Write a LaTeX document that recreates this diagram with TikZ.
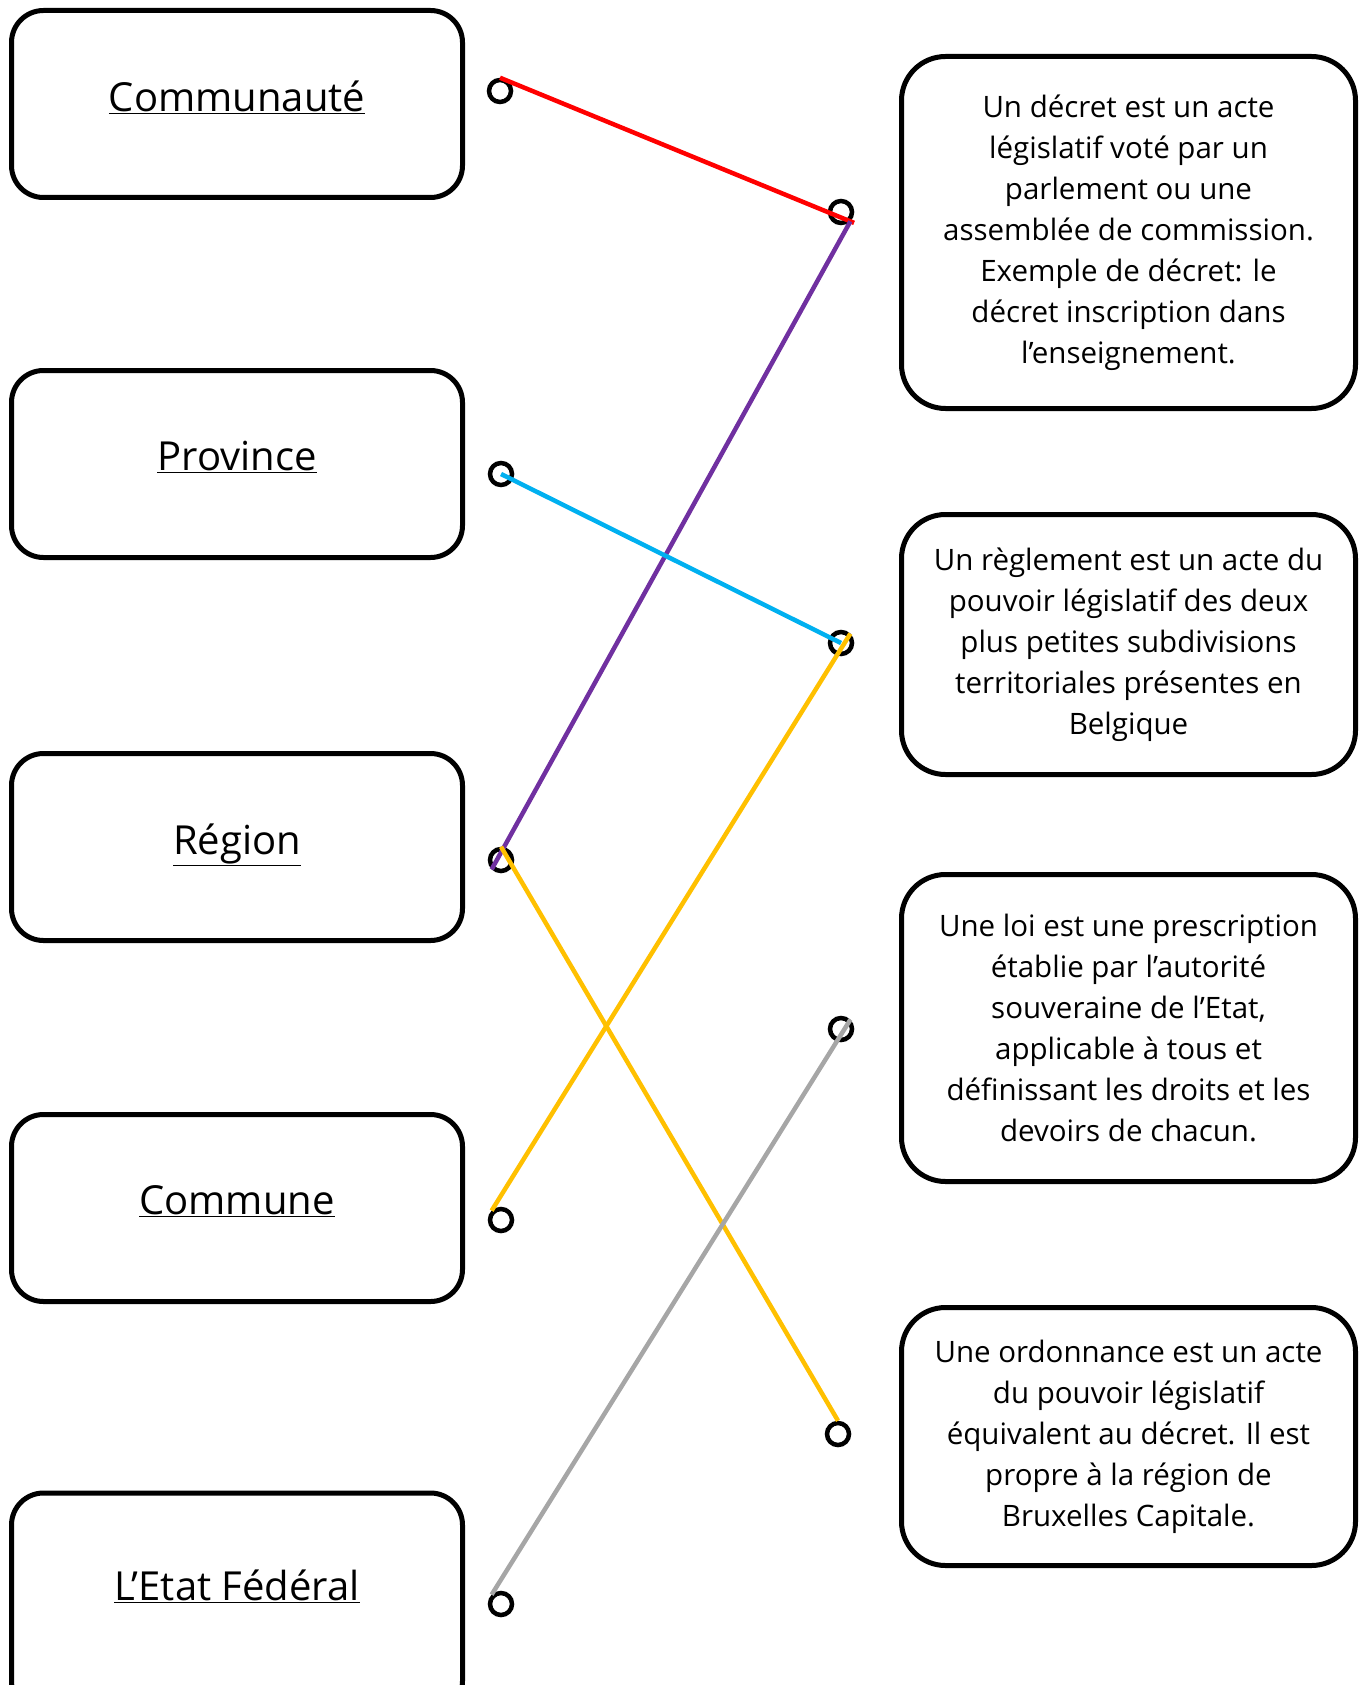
\documentclass[tikz,border=0pt]{standalone}
\usepackage{fontspec}
\setmainfont{Open Sans}
\usetikzlibrary{positioning,calc}

\newcommand{\lvlname}[2][16pt]{\raisebox{#1}{\underline{#2}}}

\tikzset{
  levelbox/.style={draw, line width=5pt, rounded corners=32pt, minimum width=451pt, minimum height=187pt, font=\fontsize{40}{48}\selectfont},
  defbox/.style={draw, line width=5pt, rounded corners=44pt, minimum width=454pt, align=center, font=\fontsize{29.5}{41}\selectfont},
  ring/.style={circle, draw, line width=4.5pt, minimum size=22pt, inner sep=0pt},
  link/.style={line width=4.5pt}
}
\definecolor{linkpurple}{RGB}{112,48,160}
\definecolor{linkblue}{RGB}{0,176,240}
\definecolor{linkyellow}{RGB}{255,192,0}
\definecolor{linkgray}{RGB}{166,166,166}

\begin{document}
\begin{tikzpicture}[x=1pt, y=-1pt]
    \useasboundingbox (0,0) rectangle (1364,1685);

    % Levels of power
    \node[levelbox] (comm) at (237,104) {\lvlname{Communauté}};
    \node[levelbox] (prov) at (237,464) {\lvlname{Province}};
    \node[levelbox] (reg) at (237,847) {\lvlname{Région}};
    \node[levelbox] (cmn) at (237,1208) {\lvlname{Commune}};
    \node[levelbox, minimum height=220pt] (etat) at (237,1603) {\lvlname[35pt]{L’Etat Fédéral}};

    % Definitions
    \node[defbox, minimum height=352pt] (decret) at (1128.5,232.5) {Un décret est un acte\\législatif voté par un\\parlement ou une\\assemblée de commission.\\Exemple de décret: le\\décret inscription dans\\l’enseignement.};
    \node[defbox, minimum height=260pt] (regl) at (1128.5,644.5) {Un règlement est un acte du\\pouvoir législatif des deux\\plus petites subdivisions\\territoriales présentes en\\Belgique};
    \node[defbox, minimum height=307pt] (loi) at (1128.5,1028) {Une loi est une prescription\\établie par l’autorité\\souveraine de l’Etat,\\applicable à tous et\\définissant les droits et les\\devoirs de chacun.};
    \node[defbox, minimum height=258pt] (ordo) at (1128.5,1436.5) {Une ordonnance est un acte\\du pouvoir législatif\\équivalent au décret. Il est\\propre à la région de\\Bruxelles Capitale.};

    % Rings
    \node[ring] (rcomm) at (500,91) {};
    \node[ring] (rprov) at (501,474) {};
    \node[ring] (rreg) at (501,860) {};
    \node[ring] (rcmn) at (501,1220) {};
    \node[ring] (retat) at (501,1604) {};
    \node[ring] (rdecret) at (841,212) {};
    \node[ring] (rregl) at (841,643) {};
    \node[ring] (rloi) at (841,1029) {};
    \node[ring] (rordo) at (838,1434) {};

    % Answers
    \draw[link, red, shorten >=-4pt] (rcomm.north) -- (rdecret.south east);
    \draw[link, linkpurple] (rdecret.south east) -- (rreg.south west);
    \draw[link, linkblue] (rprov.center) -- (rregl.center);
    \draw[link, linkyellow] (rregl.north east) -- (rcmn.north west);
    \draw[link, linkyellow] (rreg.north) -- (rordo.north);
    \draw[link, linkgray] (rloi.north east) -- (retat.north west);
\end{tikzpicture}
\end{document}
